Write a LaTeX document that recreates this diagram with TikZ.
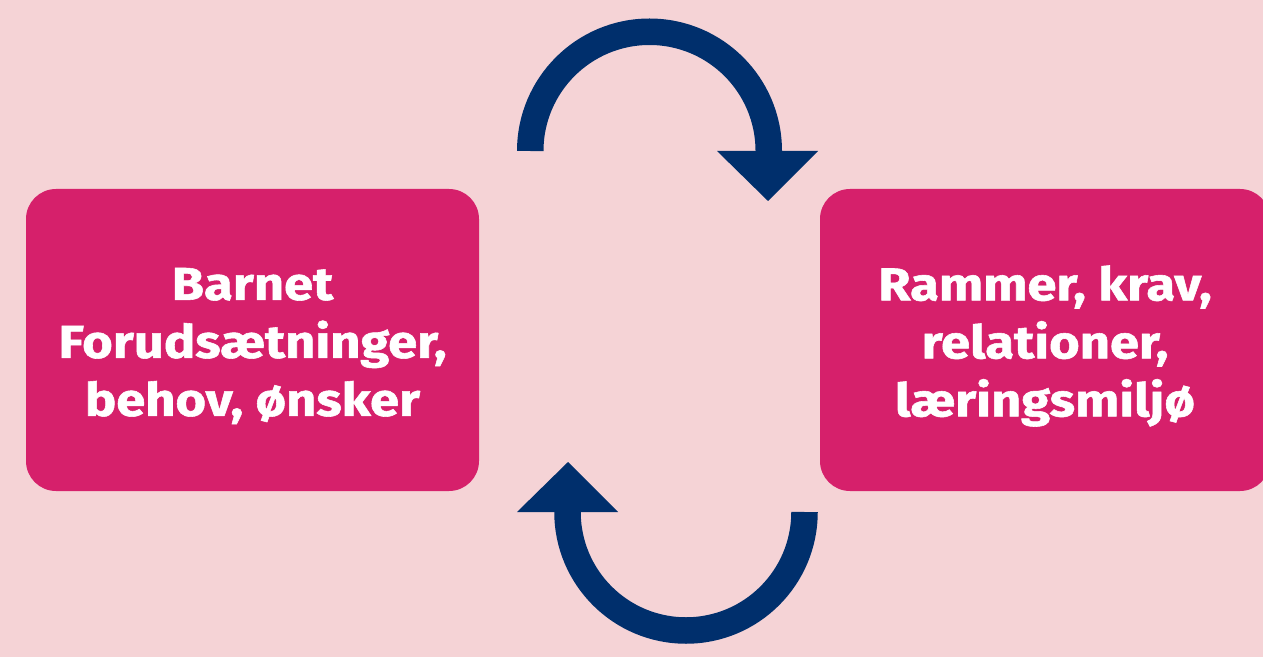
\documentclass[tikz,border=0pt]{standalone}
\usepackage{fontspec}
\setmainfont{Fira Sans}
\newfontfamily\boxfont{Fira Sans}[BoldFeatures={FakeStretch=1.14, FakeBold=1.2}]
\definecolor{bgpink}{HTML}{F5D3D6}
\definecolor{boxpink}{HTML}{D6206B}
\definecolor{navy}{HTML}{002F6C}
\tikzset{
  box/.style={fill=boxpink, rounded corners=30pt, inner sep=0pt, minimum width=453pt, minimum height=302pt},
  boxtext/.style={text=white, align=center, inner sep=0pt, font=\boxfont\fontsize{46}{58}\selectfont\bfseries},
  arcline/.style={draw=navy, line width=26.5pt, line cap=butt},
  head/.style={fill=navy}
}
\begin{document}
\begin{tikzpicture}[x=1pt,y=1pt]
\useasboundingbox (0,0) rectangle (1263,657);
\fill[bgpink] (0,0) rectangle (1263,657);
\clip (0,0) rectangle (1263,657);
\node[box] (left) at (252.5,317) {};
\node[box, minimum width=450pt] (right) at (1045,317) {};
\node[boxtext] (lefttext) at ([yshift=-6pt]left.center) {Barnet\\Forudsætninger,\\behov, ønsker};
\node[boxtext] (righttext) at ([yshift=-6pt]right.center) {Rammer, krav,\\relationer,\\læringsmiljø};
% top arrow
\draw[arcline] (530.25,506) arc (180:0:119.25);
\fill[head] (717,506) -- (818,506) -- (768,456) -- cycle;
% bottom arrow
\draw[arcline] (804.5,145) arc (0:-180:118.5);
\fill[head] (517,145) -- (618,145) -- (568,195) -- cycle;
\end{tikzpicture}
\end{document}
